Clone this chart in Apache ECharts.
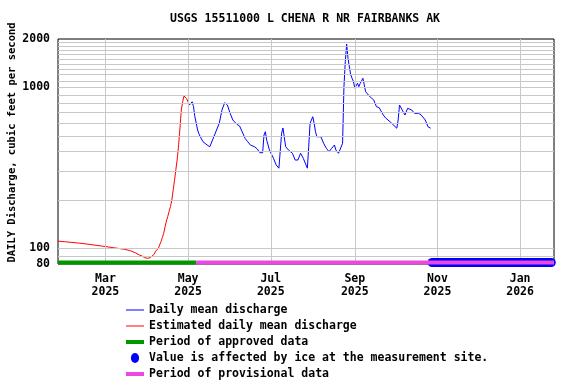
<!DOCTYPE html>
<html><head><meta charset="utf-8">
<script src="https://cdn.jsdelivr.net/npm/echarts@6/dist/echarts.min.js"></script>
<style>html,body{margin:0;padding:0;background:#fff}#c{width:576px;height:384px}</style>
</head><body><div id="c"></div>
<script>
// ---------- data ----------
const chartTitle = 'USGS 15511000 L CHENA R NR FAIRBANKS AK';
const yAxisTitle = 'DAILY Discharge, cubic feet per second';
const xRange = ['2025-01-25', '2026-01-26'];
const yRange = [80, 2000];

const estimatedDates = ['2025-01-25','2025-01-30','2025-02-09','2025-02-17','2025-02-26','2025-03-07','2025-03-15','2025-03-19','2025-03-23','2025-03-26','2025-03-28','2025-03-30','2025-04-01','2025-04-03','2025-04-04','2025-04-06','2025-04-07','2025-04-09','2025-04-10','2025-04-11','2025-04-12','2025-04-13','2025-04-14','2025-04-15','2025-04-16','2025-04-17','2025-04-18','2025-04-19','2025-04-20','2025-04-21','2025-04-22','2025-04-23','2025-04-24','2025-04-25','2025-04-26','2025-04-27','2025-04-28','2025-04-29','2025-04-30','2025-05-01','2025-05-02'];
const estimatedValues = [111,110,108,106,103.5,101,98.7,97,94,91,89.7,87.5,86.8,87.5,88.5,92,96,100,105,110,117,124,136,148,158,170,182,200,231,265,310,360,440,560,724,815,885,870,850,836,778];

const dailyDates = ['2025-05-02','2025-05-03','2025-05-04','2025-05-05','2025-05-06','2025-05-07','2025-05-08','2025-05-09','2025-05-10','2025-05-12','2025-05-15','2025-05-17','2025-05-18','2025-05-20','2025-05-22','2025-05-24','2025-05-26','2025-05-28','2025-05-30','2025-06-01','2025-06-03','2025-06-06','2025-06-08','2025-06-09','2025-06-11','2025-06-12','2025-06-14','2025-06-16','2025-06-19','2025-06-21','2025-06-23','2025-06-25','2025-06-26','2025-06-27','2025-06-28','2025-06-29','2025-06-30','2025-07-03','2025-07-05','2025-07-07','2025-07-08','2025-07-09','2025-07-10','2025-07-11','2025-07-12','2025-07-14','2025-07-17','2025-07-19','2025-07-21','2025-07-23','2025-07-25','2025-07-27','2025-07-28','2025-07-29','2025-07-30','2025-08-01','2025-08-02','2025-08-03','2025-08-04','2025-08-07','2025-08-09','2025-08-11','2025-08-13','2025-08-15','2025-08-17','2025-08-18','2025-08-20','2025-08-21','2025-08-23','2025-08-24','2025-08-25','2025-08-26','2025-08-27','2025-08-28','2025-08-29','2025-08-30','2025-08-31','2025-09-01','2025-09-03','2025-09-04','2025-09-05','2025-09-07','2025-09-08','2025-09-09','2025-09-11','2025-09-13','2025-09-15','2025-09-17','2025-09-19','2025-09-22','2025-09-24','2025-09-27','2025-09-29','2025-10-02','2025-10-03','2025-10-04','2025-10-06','2025-10-08','2025-10-10','2025-10-13','2025-10-15','2025-10-18','2025-10-20','2025-10-23','2025-10-25','2025-10-27'];
const dailyValues = [778,800,815,759,658,600,544,515,494,460,439,428,439,494,544,599,724,804,778,691,628,590,576,566,506,483,460,439,428,415,393,393,506,531,470,439,409,363,330,315,322,519,560,570,428,409,390,354,354,390,363,330,315,428,599,658,599,531,494,494,450,419,399,419,439,409,390,399,450,1010,1450,1860,1520,1340,1200,1140,1090,990,1061,1011,1061,1140,1036,941,898,864,836,759,749,674,643,613,590,558,628,778,724,674,742,724,691,691,674,628,570,558];

const approvedPeriod = ['2025-01-25', '2025-05-07'];
const provisionalPeriod = ['2025-05-07', '2026-01-26'];
const icePeriod = ['2025-10-28', '2026-01-24'];
const periodLevel = 81.7;

const monthTicks = ['2025-03-01','2025-05-01','2025-07-01','2025-09-01','2025-11-01','2026-01-01'];
const monthNames = ['Jan','Feb','Mar','Apr','May','Jun','Jul','Aug','Sep','Oct','Nov','Dec'];
const yGridValues = [90,100,200,300,400,500,600,700,800,900,1000,1100,1200,1300,1400,1500,1600,1700,1800,1900];

const names = {
  daily: 'Daily mean discharge',
  est: 'Estimated daily mean discharge',
  approved: 'Period of approved data',
  ice: 'Value is affected by ice at the measurement site.',
  prov: 'Period of provisional data'
};
const colors = { daily:'#0000ff', est:'#ff0000', approved:'#009600', ice:'#0000ff', prov:'#ea48e0' };

// ---------- chart ----------
const FONT = '"DejaVu Sans Mono", monospace';
const ts = d => echarts.time.parse(d).getTime();
const pair = (ds, vs) => ds.map((d, i) => [ts(d), vs[i]]);
const period = p => [[ts(p[0]), periodLevel], [ts(p[1]), periodLevel]];

const txt = { fontFamily: FONT, fontSize: 11.5, fontWeight: 'bold', color: '#000' };

const chart = echarts.init(document.getElementById('c'), null, { renderer: 'canvas' });
chart.setOption({
  animation: false,
  title: { text: chartTitle, left: 170, top: 12, padding: 0, textStyle: Object.assign({ lineHeight: 14 }, txt) },
  grid: { left: 58, right: 22, top: 39, bottom: 120, show: true, borderColor: '#000', borderWidth: 1,
          backgroundColor: 'transparent', containLabel: false, outerBoundsMode: 'none' },
  xAxis: {
    type: 'value', min: ts(xRange[0]), max: ts(xRange[1]),
    axisLine: { show: false }, axisTick: { show: false }, splitLine: { show: false },
    axisLabel: Object.assign({
      customValues: monthTicks.map(ts), margin: 9, lineHeight: 13,
      formatter: v => { const d = new Date(v); return monthNames[d.getMonth()] + '\n' + d.getFullYear(); }
    }, txt)
  },
  yAxis: {
    type: 'log', logBase: 10, min: yRange[0], max: yRange[1],
    axisLine: { show: false }, axisTick: { show: false }, splitLine: { show: false },
    axisLabel: Object.assign({ margin: 8, padding: [3, 0, 0, 0], formatter: v => String(Math.round(v)) }, txt),
    name: yAxisTitle, nameLocation: 'middle', nameRotate: 90, nameGap: 40, nameMoveOverlap: false,
    nameTextStyle: { fontFamily: FONT, fontSize: 10.5, fontWeight: 'bold', color: '#000', padding: [0, 0, 0, 18] }
  },
  legend: {
    orient: 'vertical', left: 126, top: 303, padding: 0, itemWidth: 18, itemHeight: 10, itemGap: 2,
    height: 82,
    textStyle: Object.assign({ lineHeight: 14 }, txt),
    itemStyle: { borderWidth: 0 },
    selectedMode: false,
    data: [
      { name: names.daily, icon: 'path://M0,0H18V1H0Z', itemStyle: { color: colors.daily } },
      { name: names.est, icon: 'path://M0,0H18V1H0Z', itemStyle: { color: colors.est } },
      { name: names.approved, icon: 'path://M0,0H18V4H0Z', itemStyle: { color: colors.approved } },
      { name: names.ice, icon: 'path://M0,5.5A4.5,5.5,0,1,1,9,5.5A4.5,5.5,0,1,1,0,5.5Z', itemStyle: { color: colors.ice } },
      { name: names.prov, icon: 'path://M0,0H18V4H0Z', itemStyle: { color: colors.prov } }
    ]
  },
  series: [
    {
      name: 'grid', type: 'line', data: [], z: 1, silent: true,
      markLine: {
        silent: true, symbol: 'none', label: { show: false }, animation: false,
        lineStyle: { color: '#c8c8c8', type: 'solid', width: 1 },
        data: yGridValues.map(v => ({ yAxis: v })).concat(monthTicks.map(d => ({ xAxis: ts(d) })))
      }
    },
    { name: names.est, type: 'line', data: pair(estimatedDates, estimatedValues), symbol: 'none', z: 4,
      lineStyle: { color: colors.est, width: 1 }, itemStyle: { color: colors.est } },
    { name: names.daily, type: 'line', data: pair(dailyDates, dailyValues), symbol: 'none', z: 4,
      lineStyle: { color: colors.daily, width: 1 }, itemStyle: { color: colors.daily } },
    { name: names.ice, type: 'line', data: period(icePeriod), symbol: 'none', z: 5, clip: false,
      lineStyle: { color: colors.ice, width: 9, cap: 'round' }, itemStyle: { color: colors.ice } },
    { name: names.approved, type: 'line', data: period(approvedPeriod), symbol: 'none', z: 6, clip: false,
      lineStyle: { color: colors.approved, width: 4 }, itemStyle: { color: colors.approved } },
    { name: names.prov, type: 'line', data: period(provisionalPeriod), symbol: 'none', z: 6, clip: false,
      lineStyle: { color: colors.prov, width: 4 }, itemStyle: { color: colors.prov } }
  ]
});
</script></body></html>
